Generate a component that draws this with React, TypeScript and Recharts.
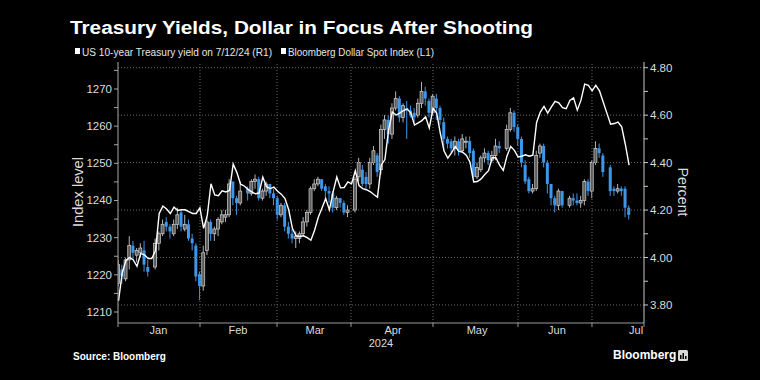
import { ComposedChart, Bar, Line, XAxis, YAxis, ReferenceLine } from 'recharts'

// one slot per weekday, Jan 1 2024 (t=0) .. Jul 12 2024 (t=139); null = US holiday
const yieldOpen = [
  null, 3.89, 3.95, 3.91, 3.99,
  4.05, 4.01, 4.02, 4.03, 3.96,
  null, 3.96, 4.06, 4.10, 4.15,
  4.13, 4.10, 4.14, 4.19, 4.12,
  4.14, 4.08, 4.05, 3.93, 3.88,
  4.03, 4.15, 4.10, 4.12, 4.15,
  4.17, 4.18, 4.32, 4.25, 4.23,
  null, 4.29, 4.27, 4.32, 4.33,
  4.25, 4.28, 4.31, 4.27, 4.25,
  4.18, 4.22, 4.13, 4.10, 4.08,
  4.08, 4.10, 4.15, 4.19, 4.29,
  4.31, 4.33, 4.30, 4.28, 4.27,
  4.21, 4.25, 4.23, 4.19, null,
  4.20, 4.34, 4.37, 4.34, 4.31,
  4.40, 4.43, 4.37, 4.54, 4.58,
  4.52, 4.63, 4.67, 4.59, 4.63,
  4.62, 4.61, 4.60, 4.65, 4.70,
  4.66, 4.61, 4.67, 4.63, 4.57,
  4.50, 4.49, 4.46, 4.49, 4.45,
  4.49, 4.49, 4.45, 4.34, 4.37,
  4.42, 4.44, 4.41, 4.43, 4.47,
  null, 4.46, 4.54, 4.61, 4.55,
  4.50, 4.39, 4.33, 4.28, 4.29,
  4.44, 4.47, 4.40, 4.31, 4.25,
  4.22, 4.28, null, 4.22, 4.25,
  4.24, 4.23, 4.24, 4.32, 4.28,
  4.40, 4.46, 4.43, null, 4.38,
  4.29, 4.28, 4.29, 4.29, 4.21,
]
const yieldHigh = [
  null, 3.99, 3.97, 4.00, 4.09,
  4.07, 4.04, 4.06, 4.07, 3.99,
  null, 4.08, 4.11, 4.16, 4.17,
  4.14, 4.16, 4.21, 4.20, 4.18,
  4.16, 4.10, 4.06, 3.94, 4.05,
  4.17, 4.16, 4.13, 4.17, 4.20,
  4.20, 4.33, 4.32, 4.26, 4.32,
  null, 4.30, 4.33, 4.35, 4.34,
  4.29, 4.32, 4.31, 4.29, 4.26,
  4.23, 4.23, 4.15, 4.12, 4.11,
  4.11, 4.17, 4.20, 4.30, 4.33,
  4.34, 4.33, 4.31, 4.30, 4.28,
  4.26, 4.25, 4.24, 4.22, null,
  4.34, 4.42, 4.39, 4.36, 4.42,
  4.47, 4.44, 4.56, 4.60, 4.60,
  4.65, 4.70, 4.68, 4.65, 4.66,
  4.64, 4.63, 4.67, 4.74, 4.72,
  4.67, 4.69, 4.69, 4.64, 4.59,
  4.51, 4.50, 4.51, 4.50, 4.52,
  4.51, 4.51, 4.46, 4.40, 4.43,
  4.46, 4.45, 4.45, 4.50, 4.49,
  null, 4.56, 4.63, 4.62, 4.56,
  4.51, 4.41, 4.34, 4.31, 4.45,
  4.48, 4.48, 4.41, 4.31, 4.26,
  4.29, 4.28, null, 4.26, 4.27,
  4.27, 4.26, 4.33, 4.33, 4.41,
  4.49, 4.48, 4.44, null, 4.39,
  4.30, 4.31, 4.30, 4.30, 4.22,
]
const yieldLow = [
  null, 3.88, 3.89, 3.90, 3.95,
  3.99, 3.98, 4.00, 3.94, 3.92,
  null, 3.95, 4.03, 4.09, 4.11,
  4.08, 4.09, 4.12, 4.11, 4.11,
  4.07, 4.03, 3.90, 3.82, 3.86,
  4.01, 4.07, 4.07, 4.09, 4.14,
  4.15, 4.17, 4.22, 4.18, 4.22,
  null, 4.24, 4.26, 4.29, 4.24,
  4.24, 4.26, 4.25, 4.22, 4.16,
  4.17, 4.11, 4.08, 4.06, 4.04,
  4.06, 4.09, 4.13, 4.18, 4.28,
  4.30, 4.28, 4.24, 4.23, 4.19,
  4.20, 4.21, 4.18, 4.17, null,
  4.19, 4.32, 4.30, 4.29, 4.29,
  4.39, 4.34, 4.35, 4.50, 4.48,
  4.50, 4.62, 4.57, 4.57, 4.50,
  4.59, 4.57, 4.59, 4.63, 4.64,
  4.59, 4.60, 4.58, 4.56, 4.45,
  4.46, 4.44, 4.43, 4.43, 4.44,
  4.46, 4.42, 4.33, 4.33, 4.36,
  4.40, 4.39, 4.40, 4.41, 4.44,
  null, 4.45, 4.53, 4.53, 4.47,
  4.38, 4.31, 4.27, 4.27, 4.28,
  4.42, 4.38, 4.27, 4.22, 4.19,
  4.20, 4.21, null, 4.21, 4.22,
  4.22, 4.21, 4.22, 4.26, 4.25,
  4.39, 4.42, 4.34, null, 4.26,
  4.26, 4.27, 4.26, 4.17, 4.16,
]
const yieldClose = [
  null, 3.97, 3.92, 3.99, 4.05,
  4.02, 4.03, 4.04, 3.97, 3.94,
  null, 4.06, 4.10, 4.14, 4.13,
  4.11, 4.14, 4.18, 4.13, 4.14,
  4.08, 4.06, 3.92, 3.88, 4.02,
  4.15, 4.10, 4.12, 4.16, 4.18,
  4.18, 4.31, 4.25, 4.23, 4.28,
  null, 4.27, 4.32, 4.33, 4.25,
  4.28, 4.31, 4.27, 4.25, 4.18,
  4.22, 4.13, 4.10, 4.08, 4.09,
  4.10, 4.15, 4.19, 4.29, 4.31,
  4.33, 4.29, 4.28, 4.27, 4.21,
  4.25, 4.23, 4.19, 4.20, null,
  4.33, 4.40, 4.31, 4.31, 4.40,
  4.45, 4.36, 4.54, 4.58, 4.52,
  4.63, 4.67, 4.59, 4.64, 4.62,
  4.60, 4.59, 4.65, 4.70, 4.67,
  4.61, 4.68, 4.63, 4.58, 4.50,
  4.48, 4.46, 4.49, 4.45, 4.50,
  4.49, 4.44, 4.34, 4.38, 4.42,
  4.44, 4.41, 4.43, 4.47, 4.46,
  null, 4.54, 4.61, 4.55, 4.50,
  4.40, 4.32, 4.28, 4.29, 4.43,
  4.47, 4.40, 4.31, 4.25, 4.22,
  4.28, 4.22, null, 4.25, 4.24,
  4.23, 4.24, 4.32, 4.28, 4.40,
  4.46, 4.44, 4.36, null, 4.28,
  4.28, 4.29, 4.28, 4.21, 4.18,
]
const dollarIndex = [
  null, 1213, 1220.5, 1223.8, 1224.7,
  1224, 1222.3, 1225.7, 1225.4, 1224.4,
  1224.4, 1226.5, 1236.5, 1238.5, 1237.7,
  1236.5, 1238.2, 1237.3, 1237.5, 1237.5,
  1237, 1236.5, 1236.5, 1238, 1232.5,
  1236, 1244.5, 1241.5, 1241.3, 1242.6,
  1242.3, 1242.7, 1249.8, 1247.5, 1244.4,
  1243.9, 1243, 1242.3, 1241.8, 1242,
  1246.3, 1243.7, 1243.2, 1243.6, 1242.5,
  1241.7, 1240.5, 1237.5, 1232.5, 1230.5,
  1230.3, 1230.5, 1230, 1229.3, 1232,
  1235.5, 1238, 1240.5, 1237.5, 1242.3,
  1246.3, 1243.4, 1243.5, 1245, 1244.5,
  1248, 1244, 1243.2, 1242.9, 1242.4,
  1241.6, 1240.9, 1249.5, 1251, 1259,
  1263.8, 1263, 1263.5, 1264.2, 1264.6,
  1263.6, 1260.3, 1260.9, 1261.5, 1262.5,
  1259.5, 1264.8, 1263.5, 1258, 1253.3,
  1251.4, 1252.8, 1254.5, 1253.2, 1253,
  1252.2, 1250.3, 1245, 1245.1, 1245.8,
  1247, 1248, 1251.5, 1251.5, 1249.5,
  1248.1, 1252, 1254.5, 1253.5, 1251.7,
  1251.9, 1252.3, 1251.9, 1252.2, 1261,
  1263.8, 1265.3, 1263.5, 1265.2, 1266.7,
  1266.3, 1265, 1264.7, 1266.9, 1267.6,
  1264.3, 1267, 1271.3, 1271, 1269.5,
  1271, 1269.5, 1266.5, 1263.5, 1260.5,
  1260.7, 1261.1, 1259.8, 1255, 1249.5,
]

const monthNames = ['Jan', 'Feb', 'Mar', 'Apr', 'May', 'Jun', 'Jul']
const monthCenters = [11.8, 33.3, 54.1, 75.2, 97.9, 119.5, 140.9]
const monthEdges = [23.03, 43.84, 63.84, 86.0, 108.97, 128.97]
const xEnds = [0.865, 143.03]
const indexTicks = [1210, 1215, 1220, 1225, 1230, 1235, 1240, 1245, 1250, 1255, 1260, 1265, 1270, 1275]
const yieldTicks = [3.8, 3.9, 4.0, 4.1, 4.2, 4.3, 4.4, 4.5, 4.6, 4.7, 4.8]
const gridYields = [3.8, 4.0, 4.2, 4.4, 4.6, 4.8]

const data = yieldOpen.map((o, t) => ({
  t,
  open: o,
  high: yieldHigh[t],
  low: yieldLow[t],
  close: yieldClose[t],
  range: o == null ? null : [yieldLow[t], yieldHigh[t]],
  dollar: dollarIndex[t],
}))

const BLUE = '#3d97ea'
const TXT = '#dcdcdc'

const Candle = (props: any) => {
  const { x, y, width, height, payload } = props
  if (payload.open == null || y == null || isNaN(y)) return null
  const top = Math.min(y, y + height)
  const h = Math.abs(height)
  const per = h / (payload.high - payload.low || 1)
  const yOf = (v: number) => top + (payload.high - v) * per
  const up = payload.close >= payload.open
  const cx = x + width / 2
  const bTop = yOf(Math.max(payload.open, payload.close))
  const bH = Math.max(1, Math.abs(yOf(payload.open) - yOf(payload.close)))
  return (
    <g>
      <line x1={cx} x2={cx} y1={top} y2={top + h} stroke={up ? '#b5b5b5' : BLUE} strokeWidth={1} />
      <rect x={x} y={bTop} width={width} height={bH}
        fill={up ? '#5c5c5c' : BLUE} stroke={up ? '#d4d4d4' : 'none'} strokeWidth={0.7} />
    </g>
  )
}

const XTick = (props: any) => {
  const { x, y, payload } = props
  const i = monthCenters.indexOf(payload.value)
  if (i >= 0) {
    return <text x={x} y={y + 11} textAnchor="middle" fill={TXT} fontSize={11}>{monthNames[i]}</text>
  }
  return <line x1={x} x2={x} y1={y} y2={y + 4} stroke="#9a9a9a" />
}

const LeftTick = (props: any) => {
  const { x, y, payload } = props
  if (payload.value % 10 !== 0) return null
  return <text x={x} y={y + 4} textAnchor="end" fill={TXT} fontSize={11.5}>{payload.value}</text>
}

const RightTick = (props: any) => {
  const { x, y, payload } = props
  if (Math.round(payload.value * 10) % 2 !== 0) return null
  return <text x={x} y={y + 4} textAnchor="start" fill={TXT} fontSize={11.5}>{payload.value.toFixed(2)}</text>
}

export default function App() {
  return (
    <div style={{ position: 'fixed', left: 0, top: 0, width: 760, height: 380, background: '#000', overflow: 'hidden', fontFamily: '"Liberation Sans", Arial, sans-serif' }}>
      <ComposedChart width={760} height={380} data={data} margin={{ top: 62, right: 60, bottom: 27, left: 60 }}>
        <XAxis dataKey="t" type="number" domain={[xEnds[0], xEnds[1]]} allowDataOverflow
          ticks={[...xEnds, ...monthEdges, ...monthCenters]} interval={0}
          tick={<XTick />} tickLine={false} tickSize={0} tickMargin={0} height={30}
          axisLine={{ stroke: '#9a9a9a' }} />
        <YAxis yAxisId="left" orientation="left" domain={[1207.04, 1277.26]} allowDataOverflow
          ticks={indexTicks} interval={0} width={58} tickSize={4} tickMargin={2}
          tick={<LeftTick />} tickLine={{ stroke: '#a8a8a8' }} axisLine={{ stroke: '#a8a8a8' }} />
        <YAxis yAxisId="right" orientation="right" domain={[3.724, 4.824]} allowDataOverflow
          ticks={yieldTicks} interval={0} width={56} tickSize={4} tickMargin={2}
          tick={<RightTick />} tickLine={{ stroke: '#c8c8c8' }} axisLine={{ stroke: '#c8c8c8' }} />
        {gridYields.map((v) => (
          <ReferenceLine key={'h' + v} yAxisId="right" y={v} stroke="#6a6a6a" strokeDasharray="1 2" />
        ))}
        {monthEdges.map((v) => (
          <ReferenceLine key={'v' + v} yAxisId="left" x={v} stroke="#6a6a6a" strokeDasharray="1 2" />
        ))}
        <Bar yAxisId="right" dataKey="range" barSize={3} shape={(p: any) => <Candle {...p} />} isAnimationActive={false} />
        <Line yAxisId="left" dataKey="dollar" type="linear" stroke="#ffffff" strokeWidth={1.4} dot={false} connectNulls isAnimationActive={false} />
      </ComposedChart>
      <svg width={760} height={380} style={{ position: 'absolute', left: 0, top: 0, pointerEvents: 'none' }}>
        <text x={70} y={34} fill="#fff" fontSize={18} fontWeight="bold" textLength={463} lengthAdjust="spacingAndGlyphs">
          Treasury Yields, Dollar in Focus After Shooting
        </text>
        <rect x={75} y={48} width={5} height={6} fill="#fff" />
        <text x={82} y={56} fill="#e6e6e6" fontSize={10.5} textLength={190} lengthAdjust="spacingAndGlyphs">
          US 10-year Treasury yield on 7/12/24 (R1)
        </text>
        <rect x={281} y={48} width={5} height={6} fill="#fff" />
        <text x={288} y={56} fill="#e6e6e6" fontSize={10.5} textLength={146} lengthAdjust="spacingAndGlyphs">
          Bloomberg Dollar Spot Index (L1)
        </text>
        <text transform="translate(83 192) rotate(-90)" textAnchor="middle" fill={TXT} fontSize={14} textLength={70} lengthAdjust="spacingAndGlyphs">
          Index level
        </text>
        <text transform="translate(678 192) rotate(90)" textAnchor="middle" fill={TXT} fontSize={14} textLength={49} lengthAdjust="spacingAndGlyphs">
          Percent
        </text>
        <text x={381} y={347} textAnchor="middle" fill={TXT} fontSize={11}>2024</text>
        <text x={73} y={360} fill="#fff" fontSize={10} fontWeight="bold">Source: Bloomberg</text>
        <text x={613} y={359} fill="#fff" fontSize={12} fontWeight="bold">Bloomberg</text>
        <rect x={678} y={350} width={10} height={11} rx={1.5} fill="#d8d8d8" />
        <rect x={680} y={355} width={1.5} height={4} fill="#000" />
        <rect x={682.5} y={353} width={1.5} height={6} fill="#000" />
        <rect x={685} y={356} width={1.5} height={3} fill="#000" />
      </svg>
    </div>
  )
}
